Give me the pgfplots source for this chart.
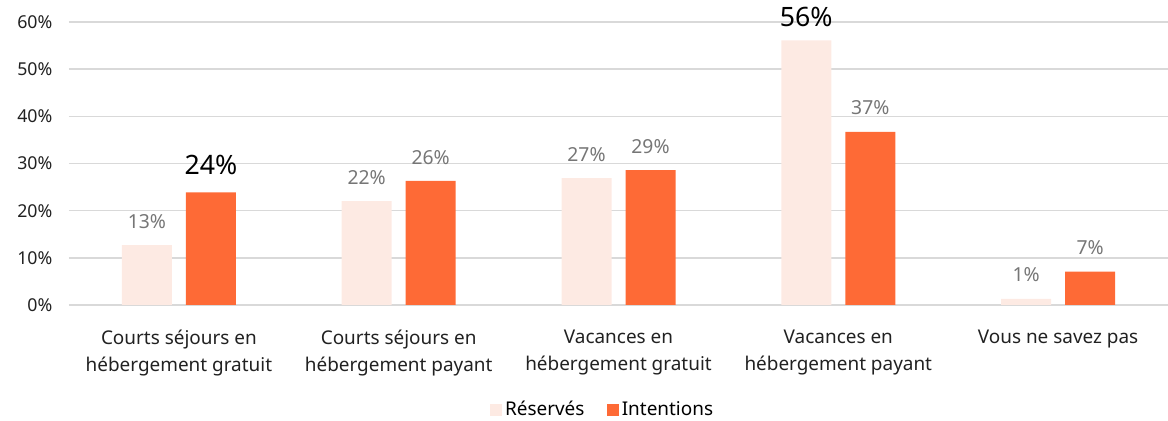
\documentclass[border=0pt]{standalone}
\usepackage{pgfplots}
\pgfplotsset{compat=1.18}
\usepackage{fontspec}
\setmainfont{Noto Sans}
\definecolor{resv}{HTML}{FDEAE3}
\definecolor{inte}{HTML}{FE6A36}
\definecolor{gridc}{HTML}{D9D9D9}
\definecolor{lab}{HTML}{767676}
\begin{document}
\begin{tikzpicture}
\begin{axis}[
  name=ax,
  scale only axis,
  width=824.25pt, height=212.25pt,
  xmin=-0.5, xmax=4.5,
  ymin=0, ymax=60,
  ytick={0,10,20,30,40,50,60},
  yticklabels={0\%,10\%,20\%,30\%,40\%,50\%,60\%},
  xtick={0,1,2,3,4},
  xticklabels={Courts séjours en\\hébergement gratuit, Courts séjours en\\hébergement payant, Vacances en\\hébergement gratuit, Vacances en\\hébergement payant, Vous ne savez pas},
  xticklabel style={align=center, font=\fontsize{14.2}{20}\selectfont, text=black!87, yshift=-11pt},
  yticklabel style={font=\fontsize{13.3}{14}\selectfont, text=black!87, xshift=-9pt},
  axis line style={draw=none},
  tick style={draw=none},
  ymajorgrids,
  grid style={gridc, line width=1.1pt},
  ybar,
  bar width=37.5pt,
  legend style={draw=none, at={(0.486,-0.37)}, anchor=center, legend columns=2, font=\fontsize{14.2}{15}\selectfont, /tikz/every even column/.append style={column sep=15pt}},
  legend image code/.code={\fill[#1] (0pt,-4.5pt) rectangle (9pt,4.5pt);},
  nodes near coords,
  point meta=explicit symbolic,
  every node near coord/.append style={font=\fontsize{14.5}{15}\selectfont, text=lab, yshift=9pt},
]
\addplot[fill=resv, draw=none, bar shift=-24pt] coordinates {
  (0,12.7) [13\%]
  (1,22.0) [22\%]
  (2,26.9) [27\%]
  (3,56.1) [{\fontsize{20}{22}\selectfont\color{black}\raisebox{-2.5pt}[\height][\depth]{56\%}}]
  (4,1.3) [1\%]
};
\addlegendentry{Réservés}
\addplot[fill=inte, draw=none, bar shift=24pt] coordinates {
  (0,23.9) [{\fontsize{20}{22}\selectfont\color{black}\raisebox{1pt}{24\%}}]
  (1,26.3) [26\%]
  (2,28.6) [29\%]
  (3,36.7) [37\%]
  (4,7.05) [7\%]
};
\addlegendentry{Intentions}
\end{axis}
\pgfresetboundingbox
\path[use as bounding box] ([xshift=-51.75pt,yshift=-87pt]ax.south west) rectangle ([yshift=16.5pt]ax.north east);
\end{tikzpicture}
\end{document}
